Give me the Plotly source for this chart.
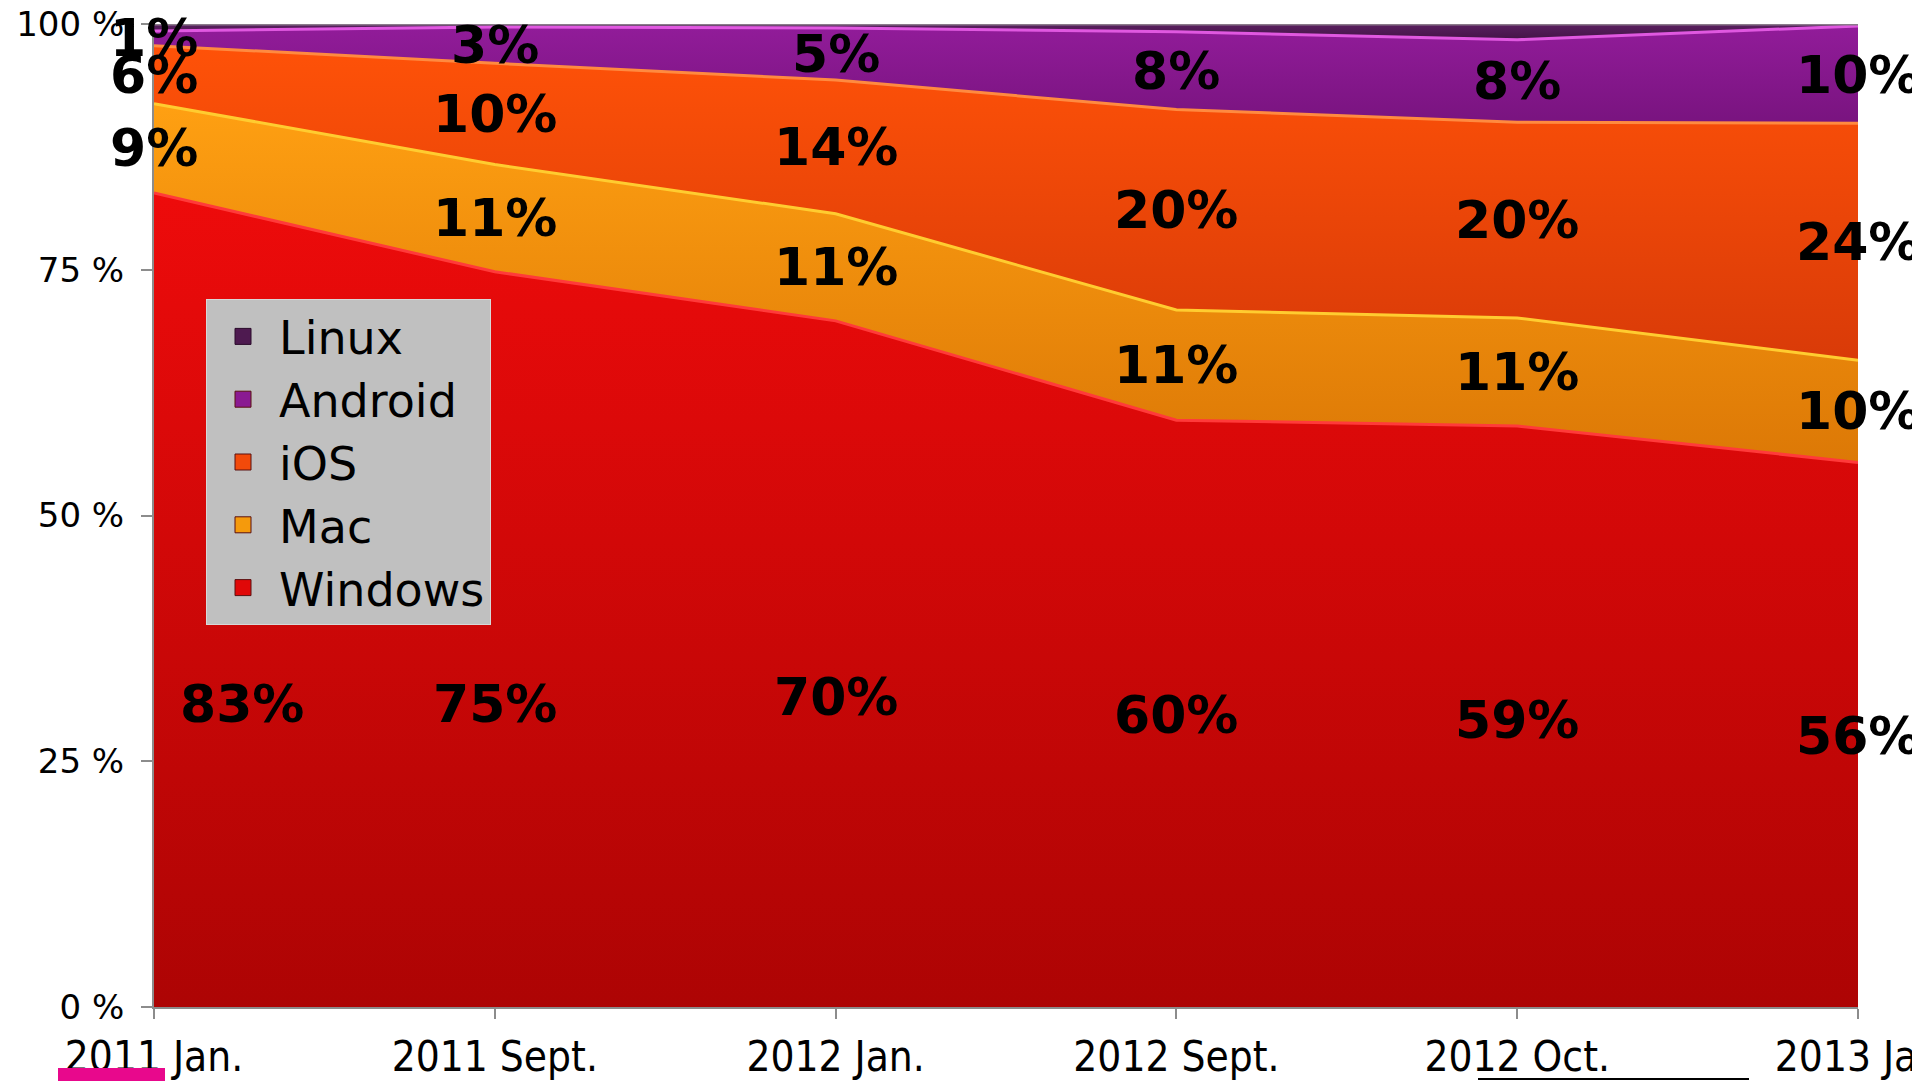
import plotly.graph_objects as go

# ---- data ----
categories = ["2011 Jan.", "2011 Sept.", "2012 Jan.", "2012 Sept.", "2012 Oct.", "2013 Jan"]
windows = [82.8, 74.8, 69.8, 59.7, 59.1, 55.4]
mac = [9.1, 10.9, 10.9, 11.2, 11.0, 10.4]
ios = [5.9, 10.3, 13.6, 20.4, 19.9, 24.1]
android = [1.5, 3.7, 5.3, 7.9, 8.4, 9.9]
linux = [0.7, 0.3, 0.4, 0.8, 1.6, 0.2]

windows_labels = ["83%", "75%", "70%", "60%", "59%", "56%"]
mac_labels = ["9%", "11%", "11%", "11%", "11%", "10%"]
ios_labels = ["6%", "10%", "14%", "20%", "20%", "24%"]
android_labels = ["1%", "3%", "5%", "8%", "8%", "10%"]

y_tick_vals = [0, 25, 50, 75, 100]
y_tick_text = ["0 %", "25 %", "50 %", "75 %", "100 %"]

# ---- styling ----
series = [
    ("Windows", windows, (0, 83, "#ad0404", "#ee0b0b"), "#ff3a3a", "#e00808"),
    ("Mac", mac, (55, 92, "#dc7806", "#ffa012"), "#ffcc30", "#f59a0c"),
    ("iOS", ios, (65, 98, "#d83a08", "#ff5208"), "#ff8a40", "#f24a0a"),
    ("Android", android, (88, 100, "#74127a", "#921c9a"), "#e058e0", "#8a1a92"),
    ("Linux", linux, (98, 100, "#3e1040", "#5a2060"), "#8a7a8a", "#4e1a50"),
]

# page has an 8px body margin: figure is offset by (8, 8)
OFF = 8
W, H = 1920 - OFF, 1081 - OFF
PL, PR, PT, PB = 154, 1858, 24, 1007   # plot area in page pixels
PW, PH = PR - PL, PB - PT

fig = go.Figure()
for name, vals, (g0, g1, c0, c1), lc, sym in series:
    fig.add_trace(go.Scatter(
        x=categories, y=vals, name=name, mode="lines",
        stackgroup="one", showlegend=False,
        line=dict(color=lc, width=3),
        fillgradient=dict(type="vertical", start=g0, stop=g1,
                          colorscale=[[0, c0], [1, c1]]),
        fillcolor=c1,
    ))
# legend entries (square swatches)
for name, vals, grad, lc, sym in series:
    fig.add_trace(go.Scatter(
        x=[None], y=[None], name=name, mode="markers",
        marker=dict(symbol="square", size=22, color=sym,
                    line=dict(color="#5a1010" if name != "Linux" else "#2a0a2a", width=1)),
        showlegend=True,
    ))

# data labels at segment mid-points
def cum(lists):
    out = [0.0] * len(categories)
    for l in lists:
        out = [a + b for a, b in zip(out, l)]
    return out

base_mac = cum([windows])
base_ios = cum([windows, mac])
base_and = cum([windows, mac, ios])

# Windows labels were placed manually in the original (not at midpoints)
windows_label_y = [30.8, 30.8, 31.5, 29.7, 29.2, 27.6]
label_font = dict(family="DejaVu Sans", size=52, color="black")
for i, c in enumerate(categories):
    fig.add_annotation(x=c, y=windows_label_y[i], text="<b>%s</b>" % windows_labels[i],
                       showarrow=False, font=label_font, xshift=88 if i == 0 else 0)
    fig.add_annotation(x=c, y=base_mac[i] + mac[i] / 2, text="<b>%s</b>" % mac_labels[i],
                       showarrow=False, font=label_font)
    fig.add_annotation(x=c, y=base_ios[i] + ios[i] / 2, text="<b>%s</b>" % ios_labels[i],
                       showarrow=False, font=label_font)
    fig.add_annotation(x=c, y=base_and[i] + android[i] / 2, text="<b>%s</b>" % android_labels[i],
                       showarrow=False, font=label_font)

# decorative underline marks present in the original image
fig.add_shape(type="rect", xref="paper", yref="paper",
              x0=(58 - PL) / PW, x1=(165 - PL) / PW,
              y0=(PB - 1081) / PH, y1=(PB - 1068) / PH,
              fillcolor="#e8088c", line_width=0, layer="above")
fig.add_shape(type="line", xref="paper", yref="paper",
              x0=(1478 - PL) / PW, x1=(1749 - PL) / PW,
              y0=(PB - 1079) / PH, y1=(PB - 1079) / PH,
              line=dict(color="black", width=2))

fig.update_layout(
    width=W, height=H,
    margin=dict(l=PL - OFF, r=1920 - PR, t=PT - OFF, b=1081 - PB, autoexpand=False),
    paper_bgcolor="white", plot_bgcolor="white",
    showlegend=True,
    legend=dict(
        traceorder="reversed",
        x=(206 - PL) / PW, y=(PB - 299) / PH,
        xanchor="left", yanchor="top",
        bgcolor="#c0c0c0", bordercolor="#d8d8d8", borderwidth=1,
        font=dict(family="DejaVu Sans", size=46, color="black"),
        itemsizing="trace", itemwidth=62,
        entrywidth=300, entrywidthmode="pixels",
    ),
    xaxis=dict(
        type="category", range=[0, 5], automargin=False,
        showgrid=False, zeroline=False,
        showline=True, linecolor="#8c8c8c", linewidth=2,
        ticks="outside", ticklen=10, tickcolor="#8c8c8c", tickwidth=2,
        tickfont=dict(family="DejaVu Sans Condensed", size=42, color="black"),
        ticklabelstandoff=2, ticklabeloverflow="allow",
    ),
    yaxis=dict(
        range=[0, 100], automargin=False,
        tickvals=y_tick_vals, ticktext=y_tick_text,
        showgrid=False, zeroline=False,
        showline=True, linecolor="#8c8c8c", linewidth=2,
        ticks="outside", ticklen=11, tickcolor="#8c8c8c", tickwidth=2,
        tickfont=dict(family="DejaVu Sans", size=34, color="black"),
        ticklabelstandoff=10, ticklabeloverflow="allow",
    ),
)

fig.write_html("out.html")
